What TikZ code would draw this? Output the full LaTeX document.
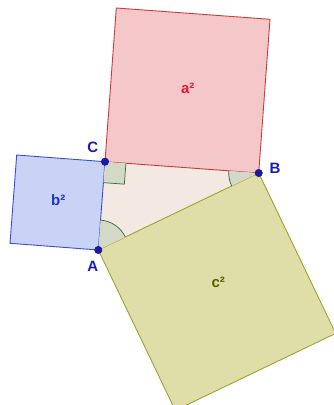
\documentclass[tikz,border=0pt]{standalone}
\usepackage{fontspec}
\setmainfont{Liberation Sans}
\usepackage{tikz}
\usetikzlibrary{calc, angles, positioning}
\definecolor{sqAfill}{HTML}{F4C8C8}
\definecolor{sqAline}{HTML}{C83C3C}
\definecolor{sqBfill}{HTML}{C9D3F6}
\definecolor{sqBline}{HTML}{3A4FD0}
\definecolor{sqCfill}{HTML}{DFDDA8}
\definecolor{sqCline}{HTML}{A3A133}
\definecolor{triFill}{HTML}{F3E8E2}
\definecolor{angFill}{HTML}{D3D9C6}
\definecolor{angLine}{HTML}{2F6B3A}
\definecolor{ptFill}{HTML}{1A1AAA}
\definecolor{ptText}{HTML}{1A1AB4}
\definecolor{lblA}{HTML}{D81B40}
\definecolor{lblB}{HTML}{2233CC}
\definecolor{lblC}{HTML}{5C5C00}
\tikzset{
  tri_fill/.style={fill=triFill},
  square_a/.style={draw=sqAline, fill=sqAfill, line width=0.9pt, line join=round},
  square_b/.style={draw=sqBline, fill=sqBfill, line width=0.9pt, line join=round},
  square_c/.style={draw=sqCline, fill=sqCfill, line width=0.9pt, line join=round},
  angle_mark/.style={draw=angLine, fill=angFill, line width=0.7pt, angle radius=30pt},
  right_mark/.style={draw=angLine, line width=0.7pt},
  pt_style/.style={circle, fill=ptFill, draw=ptFill!70!black, inner sep=0pt, minimum size=7.5pt},
  lbl_pt/.style={text=ptText},
  lbl_sq/.style={}
}
\begin{document}
\begin{tikzpicture}[x=1pt, y=1pt, font=\fontsize{15}{15}\selectfont\bfseries]
  \clip (0,0) rectangle (334,405);

  % 1. Vertices of the triangle
  \coordinate (A) at (98.3,155);
  \coordinate (B) at (258.7,232);
  \coordinate (C) at (105,243.3);

  % 2. Outer corners of the three squares
  \coordinate (Ca) at ($(C)!1!90:(B)$);
  \coordinate (Ba) at ($(B)!1!-90:(C)$);
  \coordinate (Cb) at ($(C)!1!-90:(A)$);
  \coordinate (Ab) at ($(A)!1!90:(C)$);
  \coordinate (Ac) at ($(A)!1!-90:(B)$);
  \coordinate (Bc) at ($(B)!1!90:(A)$);

  % 3. Triangle and squares
  \fill[tri_fill] (A) -- (B) -- (C) -- cycle;
  \draw[square_a] (C) -- (B) -- (Ba) -- (Ca) -- cycle;
  \draw[square_b] (A) -- (C) -- (Cb) -- (Ab) -- cycle;
  \draw[square_c] (A) -- (B) -- (Bc) -- (Ac) -- cycle;

  % 4. Angle marks
  \coordinate (rA) at ($(C)!21pt!(A)$);
  \coordinate (rB) at ($(C)!21pt!(B)$);
  \coordinate (rC) at ($(rA)+(rB)-(C)$);
  \fill[angFill] (C) -- (rA) -- (rC) -- (rB) -- cycle;
  \draw[right_mark] (rA) -- (rC) -- (rB);
  \pic[angle_mark] {angle=B--A--C};
  \pic[angle_mark] {angle=C--B--A};

  % 5. Points and labels
  \node[pt_style] (dotA) at (A) {};
  \node[pt_style] (dotB) at (B) {};
  \node[pt_style] (dotC) at (C) {};
  \node[lbl_pt] (labA) at ($(A)+(-5.6,-16.7)$) {A};
  \node[lbl_pt] (labB) at ($(B)+(16.3,4.7)$) {B};
  \node[lbl_pt] (labC) at ($(C)+(-12.3,14.7)$) {C};

  \node[lbl_sq, text=lblA] (sqa) at (187.7,316.7) {a²};
  \node[lbl_sq, text=lblB] (sqb) at (58.3,205) {b²};
  \node[lbl_sq, text=lblC] (sqc) at (218.3,122.7) {c²};
\end{tikzpicture}
\end{document}
